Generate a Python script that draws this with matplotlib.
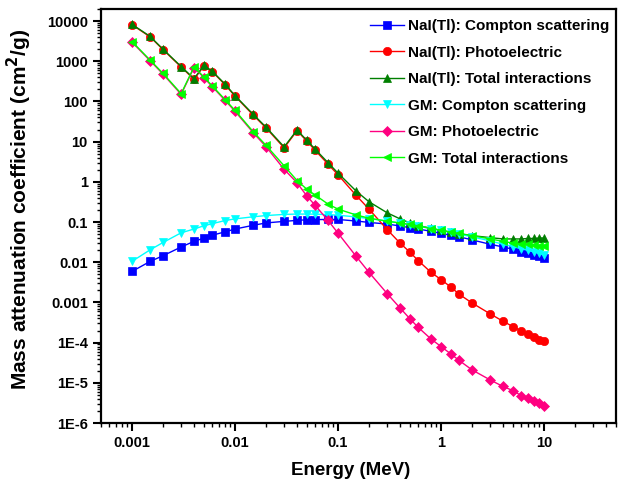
import matplotlib
matplotlib.use("Agg")
import matplotlib.pyplot as plt
from matplotlib.ticker import FixedLocator, FixedFormatter, LogLocator, NullFormatter

plt.rcParams['font.family'] = ['Liberation Sans', 'DejaVu Sans']
plt.rcParams['font.weight'] = 'bold'

energy = [0.001, 0.0015, 0.002, 0.003, 0.004, 0.005, 0.006, 0.008, 0.01, 0.015,
          0.02, 0.03, 0.04, 0.05, 0.06, 0.08, 0.1, 0.15, 0.2, 0.3, 0.4, 0.5, 0.6,
          0.8, 1, 1.25, 1.5, 2, 3, 4, 5, 6, 7, 8, 9, 10]

nai_compton = [0.0059, 0.0105, 0.0145, 0.024, 0.033, 0.040, 0.047, 0.057, 0.067, 0.083,
               0.095, 0.104, 0.110, 0.114, 0.115, 0.116, 0.116, 0.106, 0.098, 0.089, 0.080,
               0.072, 0.067, 0.059, 0.052, 0.047, 0.043, 0.036, 0.028, 0.024, 0.021,
               0.0185, 0.0167, 0.0153, 0.0140, 0.0127]
nai_photo = [8100, 4050, 1950, 720, 355, 770, 555, 262, 136, 46,
             22, 7.0, 18.8, 10.2, 6.1, 2.75, 1.5, 0.46, 0.21, 0.065, 0.030,
             0.0177, 0.011, 0.0056, 0.0037, 0.0024, 0.0016, 9.7e-4, 5.2e-4, 3.4e-4, 2.5e-4,
             1.96e-4, 1.63e-4, 1.37e-4, 1.17e-4, 1.07e-4]
nai_total = [8300, 4150, 2000, 740, 370, 790, 570, 270, 140, 48,
             23, 7.4, 19.5, 10.7, 6.5, 3.0, 1.65, 0.59, 0.32, 0.17, 0.12,
             0.095, 0.082, 0.070, 0.062, 0.056, 0.051, 0.046, 0.041, 0.038, 0.038,
             0.038, 0.039, 0.039, 0.040, 0.040]
gm_compton = [0.0105, 0.0204, 0.031, 0.054, 0.067, 0.081, 0.091, 0.109, 0.120, 0.135,
              0.145, 0.155, 0.158, 0.158, 0.157, 0.153, 0.148, 0.134, 0.122, 0.106, 0.094,
              0.085, 0.079, 0.069, 0.062, 0.055, 0.050, 0.043, 0.034, 0.028, 0.0245,
              0.0218, 0.0197, 0.0180, 0.0165, 0.0150]
gm_photo = [3000, 1030, 480, 150, 700, 390, 235, 107, 57, 16.8,
            7.5, 2.05, 0.95, 0.44, 0.26, 0.11, 0.053, 0.014, 0.0056, 0.00166, 7.3e-4,
            3.9e-4, 2.4e-4, 1.23e-4, 8.0e-5, 5.2e-5, 3.6e-5, 2.1e-5, 1.18e-5, 8.1e-6, 6.4e-6,
            4.8e-6, 4.2e-6, 3.6e-6, 3.1e-6, 2.7e-6]
gm_total = [3100, 1070, 500, 157, 725, 405, 245, 112, 60, 17.8,
            8.1, 2.5, 1.08, 0.65, 0.47, 0.28, 0.21, 0.15, 0.125, 0.105, 0.095,
            0.087, 0.080, 0.069, 0.063, 0.056, 0.052, 0.046, 0.038, 0.033, 0.030,
            0.029, 0.028, 0.027, 0.026, 0.026]

labels = ["NaI(Tl): Compton scattering", "NaI(Tl): Photoelectric", "NaI(Tl): Total interactions",
          "GM: Compton scattering", "GM: Photoelectric", "GM: Total interactions"]
colors = ["#0000FF", "#FF0000", "#007F00", "#00FFFF", "#FF0080", "#00FF00"]
markers = ["s", "o", "^", "v", "D", "<"]
series = [nai_compton, nai_photo, nai_total, gm_compton, gm_photo, gm_total]

x_ticks = [0.001, 0.01, 0.1, 1, 10]
x_tick_labels = ["0.001", "0.01", "0.1", "1", "10"]
y_ticks = [1e4, 1e3, 1e2, 10, 1, 0.1, 0.01, 0.001, 1e-4, 1e-5, 1e-6]
y_tick_labels = ["10000", "1000", "100", "10", "1", "0.1", "0.01", "0.001", "1E-4", "1E-5", "1E-6"]

fig = plt.figure(figsize=(6.18, 4.86), dpi=100)
ax = fig.add_axes([101/618, 1 - 423/486, 515/618, 414/486])

for vals, lab, col, mk in zip(series, labels, colors, markers):
    ms = 6.0 if mk != "D" else 5.0
    ax.plot(energy, vals, color=col, marker=mk, markersize=ms, linewidth=1.0,
            markeredgewidth=0.5, label=lab)

ax.set_xscale("log")
ax.set_yscale("log")
ax.set_xlim(0.0005, 50)
ax.set_ylim(1e-6, 2e4)

ax.xaxis.set_major_locator(FixedLocator(x_ticks))
ax.xaxis.set_major_formatter(FixedFormatter(x_tick_labels))
ax.xaxis.set_minor_locator(LogLocator(base=10, subs=range(2, 10), numticks=20))
ax.xaxis.set_minor_formatter(NullFormatter())
ax.yaxis.set_major_locator(FixedLocator(y_ticks))
ax.yaxis.set_major_formatter(FixedFormatter(y_tick_labels))
ax.yaxis.set_minor_locator(LogLocator(base=10, subs=range(2, 10), numticks=20))
ax.yaxis.set_minor_formatter(NullFormatter())

ax.tick_params(which="major", direction="out", length=6, width=1.5, labelsize=10.5)
ax.tick_params(which="minor", direction="out", length=3, width=1.0)
ax.tick_params(top=False, right=False)
for s in ax.spines.values():
    s.set_linewidth(1.6)

ax.set_xlabel("Energy (MeV)", fontsize=13.5, fontweight="bold")
ax.xaxis.set_label_coords((351 - 101) / 515, -0.095)
ax.set_ylabel("Mass attenuation coefficient (cm$^\\mathbf{2}$/g)", fontsize=15, fontweight="bold")
ax.yaxis.set_label_coords(-0.130, (423 - 209) / 414)

ax.legend(loc="upper left", bbox_to_anchor=((370 - 101) / 515, 1 - (19 - 9) / 414),
          frameon=False, fontsize=11, handlelength=2.2, handletextpad=0.3,
          labelspacing=0.82, borderpad=0, borderaxespad=0)

fig.savefig("out.png", dpi=100)
